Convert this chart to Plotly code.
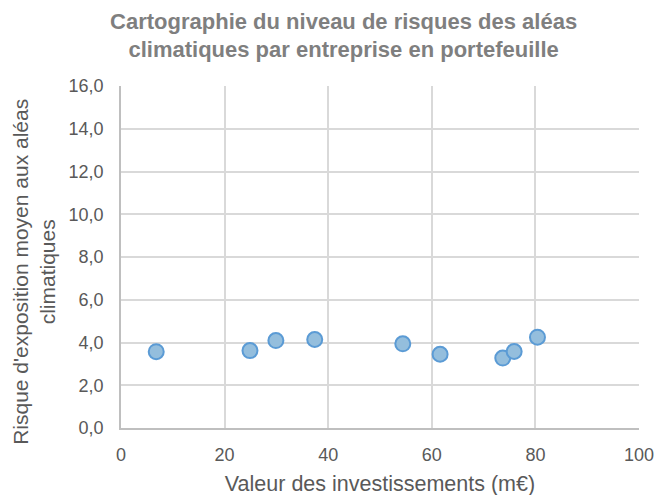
import plotly.graph_objects as go

investissements = [6.8, 24.9, 29.9, 37.4, 54.4, 61.6, 73.7, 75.9, 80.4]
risque = [3.57, 3.62, 4.09, 4.14, 3.94, 3.45, 3.27, 3.58, 4.25]

fig = go.Figure()
fig.add_trace(go.Scatter(
    x=investissements, y=risque, mode="markers",
    marker=dict(size=15, color="#94BEDD", line=dict(color="#5B9BD5", width=2)),
    showlegend=False,
))

font = "Liberation Sans, Arial, sans-serif"
fig.update_layout(
    width=662, height=495,
    margin=dict(l=113, r=31, t=78, b=75),
    paper_bgcolor="white", plot_bgcolor="white",
    separators=", ",
    font=dict(family=font, color="#595959", size=18),
    title=dict(
        text="<b>Cartographie du niveau de risques des aléas<br>climatiques par entreprise en portefeuille</b>",
        x=0.507, xanchor="center", y=0.958, yanchor="top",
        font=dict(family=font, size=22, color="#7F7F7F"),
    ),
    xaxis=dict(
        range=[0, 100], dtick=20, showgrid=True, gridcolor="#D9D9D9", gridwidth=1.5,
        showline=True, linecolor="#BFBFBF", linewidth=1.5, zeroline=False,
        ticks="", ticklabelstandoff=10, tickfont=dict(size=18, color="#595959"),
        title=dict(text="Valeur des investissements (m€)", font=dict(size=21.5, color="#595959"), standoff=12),
    ),
    yaxis=dict(
        range=[0, 16], dtick=2, tickformat=".1f", showgrid=True, gridcolor="#D9D9D9", gridwidth=1.5,
        showline=True, linecolor="#BFBFBF", linewidth=1.5, zeroline=False,
        ticks="", ticklabelstandoff=12, tickfont=dict(size=18, color="#595959"),
    ),
    annotations=[dict(
        text="Risque d'exposition moyen aux aléas<br>climatiques",
        textangle=-90, xref="paper", yref="paper", x=-0.167, y=0.458,
        xanchor="center", yanchor="middle", showarrow=False,
        font=dict(family=font, size=21, color="#595959"),
    )],
)

fig.write_html("out.html")
